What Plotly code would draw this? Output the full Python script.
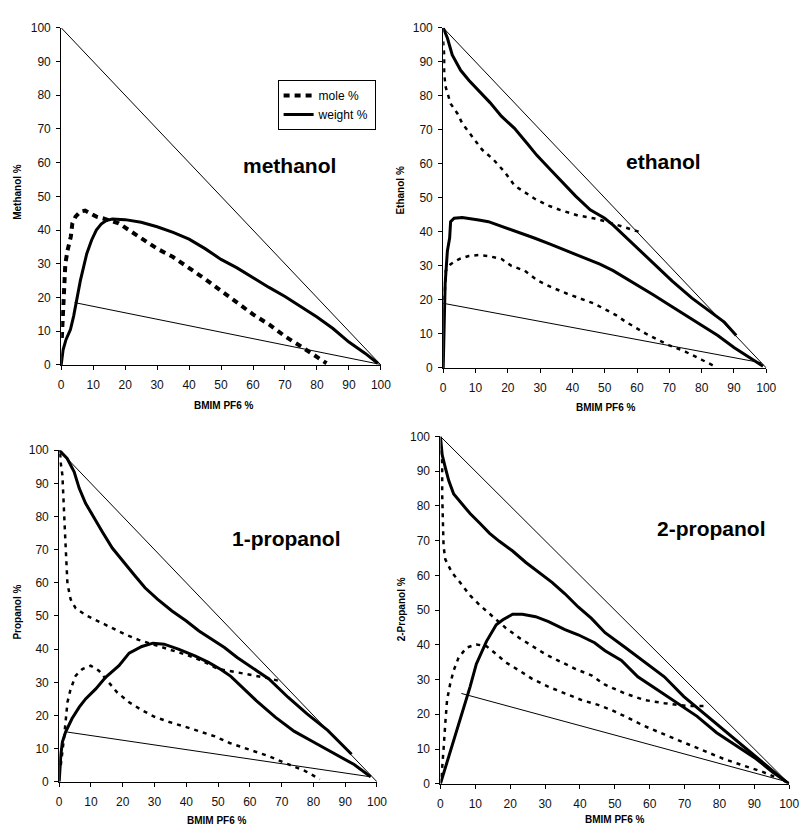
import plotly.graph_objects as go

# page body has an 8px margin: the figure is drawn 8px in from the top-left
OFF = 8
W, H = 803, 826

# ---------------- data ----------------
diag_x = [0, 100]
diag_y = [100, 0]

# methanol
meth_weight_x = [0, 0.6, 1.5, 2.9, 3.9, 4.9, 6, 7, 8, 9.5, 11, 12.5, 14, 16, 20, 25, 30, 35, 40, 45, 50, 55, 60, 65, 70, 75, 80, 85, 90, 95, 99]
meth_weight_y = [0, 4.5, 7.5, 10.5, 14.5, 20, 25, 29, 33, 37, 40, 41.8, 42.8, 43.3, 43.1, 42.3, 41, 39.3, 37.3, 34.5, 31.3, 28.8, 25.8, 23, 20.3, 17.2, 14.2, 10.8, 6.8, 3.5, 0.5]
meth_mole_x = [0.2, 0.5, 0.6, 0.8, 1.3, 2, 3, 3.5, 4.5, 6, 7.5, 9, 11, 13, 15, 18, 22, 26, 30, 35, 40, 45, 50, 55, 60, 65, 70, 75, 79, 83]
meth_mole_y = [8, 15, 20, 25, 30, 34, 38, 42, 44, 45.5, 45.8, 45, 44, 43.5, 43, 42, 39.5, 37, 34.5, 32, 28.8, 25.5, 22, 18.5, 15, 12, 8.5, 5.5, 3, 0.5]
meth_tie_x = [4.2, 99.7]
meth_tie_y = [18.5, 0.2]

# ethanol
eth_weight_up_x = [0, 1.3, 2.8, 5.4, 8, 11, 14.5, 18, 22, 26, 29, 33, 37, 41, 45.5, 50, 52.6, 58.7, 64.8, 70.9, 77, 82, 87, 90.7]
eth_weight_up_y = [100, 97, 92, 87.5, 84.5, 81.5, 78, 74, 70.5, 66, 62.5, 58.5, 54.5, 50.5, 46.5, 44, 42, 36.5, 31, 25.5, 20.5, 17, 13.5, 9.5]
eth_weight_lo_x = [0, 0.3, 0.6, 1.3, 2, 2.3, 3.4, 5.9, 7.9, 11, 14, 18.1, 23.1, 28.2, 33.3, 38.4, 43.5, 48.5, 52.6, 60, 65, 70, 75, 80, 85, 90, 95, 99]
eth_weight_lo_y = [0, 15, 24.7, 34.4, 38.2, 43, 44, 44.2, 44, 43.5, 43, 41.6, 40.1, 38.2, 36.3, 34.4, 32.4, 30.5, 28.6, 24.5, 21.5, 18.5, 15.5, 12.5, 9.5, 6, 3, 0.5]
eth_mole_up_x = [0, 0.3, 0.3, 0.8, 2.3, 4.4, 5.9, 8.9, 12, 15.5, 19.1, 22.1, 25.2, 28.2, 32.3, 36.3, 41.4, 46.5, 50.6, 55.6, 60.7]
eth_mole_up_y = [96, 92.1, 86.3, 82.5, 77.7, 74.8, 71.9, 68, 64.2, 61.3, 57.5, 53.6, 51.7, 49.8, 47.8, 46.4, 44.9, 44, 43, 41.4, 40]
eth_mole_lo_x = [0.4, 0.8, 2.3, 4.9, 7.9, 11, 14, 18.1, 21.1, 25.2, 29.2, 33.3, 38.4, 42.4, 46.5, 50.6, 53.5, 56.6, 62.7, 69.8, 74.9, 80, 84]
eth_mole_lo_y = [20, 28.6, 30.5, 32, 32.9, 33.2, 32.9, 32, 30, 28.6, 25.7, 23.8, 21.8, 20.4, 19, 17, 15.5, 13.5, 10.1, 6.7, 4.8, 2.4, 0.5]
eth_tie_x = [0, 98.5]
eth_tie_y = [19, 1.5]

# 1-propanol
prop_weight_up_x = [0, 2.5, 4.7, 6.3, 8.3, 11, 13.5, 16.7, 20, 23.5, 27, 31, 35.5, 40, 44, 48, 52, 56, 60, 66, 72, 78, 84.5, 90.7, 92]
prop_weight_up_y = [100, 97.5, 93.5, 88.5, 84, 79.5, 75.5, 70.5, 66.5, 62.5, 58.5, 55, 51.5, 48.5, 45.5, 43, 40.5, 37.5, 34.8, 31, 25.5, 20.5, 15.5, 9.5, 8.3]
prop_weight_lo_x = [0, 0.5, 1, 2, 4, 6.3, 8.3, 11.5, 14.6, 18.8, 22, 26, 29.5, 33, 37.5, 42.7, 47, 51, 54, 58, 62, 68, 74, 80, 86.6, 92.8, 98]
prop_weight_lo_y = [0, 8, 12, 15, 19, 22.5, 25, 28, 31.5, 35, 38.8, 40.8, 41.8, 41.5, 40, 38, 36, 33.8, 31.8, 28, 24.5, 19.5, 15.2, 12, 8.5, 5.2, 1.5]
prop_mole_up_x = [0.3, 0.5, 1, 1.35, 1.9, 2.3, 2.6, 3.6, 5.2, 8.3, 12.5, 16.7, 20.8, 25, 30, 35, 40, 45, 50, 56, 62, 66, 70]
prop_mole_up_y = [99, 96, 92.5, 83.5, 73.5, 65.5, 59.7, 55, 52.3, 50.3, 48.3, 46.3, 44.4, 42.8, 41.3, 39.8, 38.3, 36.5, 34, 33, 32, 31.2, 30.2]
prop_mole_lo_x = [0.5, 1, 1.6, 2.1, 2.6, 3.6, 5.2, 7.3, 9.9, 12.5, 15, 18.2, 22, 26, 30, 34.4, 39.6, 44.8, 49, 53.6, 59.8, 66, 72, 77.3, 82]
prop_mole_lo_y = [5, 8.5, 14, 19, 24, 28, 32, 34, 35, 33.5, 30.5, 27, 24, 21.6, 19.6, 18.1, 16.6, 15.1, 13.7, 11.7, 9.7, 7.7, 5.3, 3.3, 0.8]
prop_tie_x = [2.5, 98]
prop_tie_y = [15, 1.5]

# 2-propanol
ipa_weight_up_x = [0, 0.5, 1.4, 2.4, 3.8, 6.1, 8.5, 11.3, 14.1, 16.9, 20.7, 24.5, 28.2, 32, 35.7, 39.5, 43.3, 47.2, 52.9, 58.5, 64.2, 69.8, 75.4, 81.1, 86.7, 92.4, 97, 99]
ipa_weight_up_y = [100, 94.7, 91, 87.2, 83.4, 80.6, 77.8, 75, 72.1, 69.8, 67, 63.7, 60.8, 58, 54.7, 50.9, 47.6, 43.5, 39.3, 35, 30.8, 25.1, 20.4, 15.7, 11, 6.2, 2.5, 0.6]
ipa_weight_lo_x = [0, 1.9, 4.2, 6.6, 8.5, 10.3, 13.2, 16, 17.9, 20.7, 23.5, 27.3, 31, 35.7, 39.5, 44.2, 47.2, 51.9, 56.6, 62.3, 67.9, 73.6, 79.2, 84.8, 90.5, 95.2, 98.5, 100]
ipa_weight_lo_y = [0, 6.2, 13.7, 21.3, 27.9, 34.5, 41, 45.8, 47.2, 48.8, 48.8, 48.1, 46.7, 44.4, 42.9, 40.6, 38.3, 35.5, 30.8, 27, 23.2, 19.4, 14.7, 11, 7.2, 3.4, 1, 0]
ipa_mole_up_x = [0.3, 0.5, 0.5, 0.75, 0.9, 1.4, 3.3, 5.6, 8.5, 11.3, 15, 18.8, 22.6, 26.3, 30.1, 33.9, 38.6, 43.3, 47.2, 52.9, 58.5, 64.2, 70.7, 76.4]
ipa_mole_up_y = [96, 91.9, 83.4, 74, 68.4, 64.6, 60.8, 58, 54.2, 51.4, 48.1, 44.8, 42, 39.6, 37.3, 35.4, 33.1, 31.2, 28.5, 26, 24.1, 23.2, 22.4, 22.4]
ipa_mole_lo_x = [0.3, 0.5, 0.9, 1.4, 1.9, 2.8, 3.8, 5.2, 7.5, 10.3, 13.2, 16, 18.8, 22.6, 26.3, 31, 35.7, 40.5, 45.2, 48.9, 52.9, 58.5, 64.2, 69.8, 75.4, 81.1, 86.7, 92.4, 97]
ipa_mole_lo_y = [2, 4.3, 10, 17.5, 24.1, 28.8, 32.6, 36.3, 39.2, 40.1, 39.6, 37.3, 34.9, 32.6, 30.2, 27.9, 26, 24.1, 22.7, 21.3, 19.4, 16.6, 14.2, 11.9, 9.5, 7.2, 5.3, 3.4, 1.5]
ipa_tie_x = [6, 98.5]
ipa_tie_y = [26, 0.8]

tick_vals = [0, 10, 20, 30, 40, 50, 60, 70, 80, 90, 100]
tick_text = ["0", "10", "20", "30", "40", "50", "60", "70", "80", "90", "100"]

legend_names = ["mole %", "weight %"]
panel_names = ["methanol", "ethanol", "1-propanol", "2-propanol"]
y_titles = ["Methanol %", "Ethanol %", "Propanol %", "2-Propanol %"]
x_title = "BMIM PF6 %"

# ---------------- styling / layout ----------------
FONT = "Liberation Sans, Arial, sans-serif"
THICK = 3
THIN = 1


def fx(p):
    return (p - OFF) / W


def fy(p):
    return 1 - (p - OFF) / H


panels = [
    dict(xd=[fx(59), fx(384)], yd=[fy(364), fy(21)]),
    dict(xd=[fx(447.3), fx(775.7)], yd=[fy(367), fy(21)]),
    dict(xd=[fx(57), fx(380)], yd=[fy(788), fy(450.7)]),
    dict(xd=[fx(444.5), fx(799)], yd=[fy(790), fy(436.7)]),
]

fig = go.Figure()


def add(x, y, k, width, dash="solid", name=None, show=False):
    s = "" if k == 0 else str(k + 1)
    fig.add_trace(go.Scatter(
        x=x, y=y, mode="lines", xaxis="x" + s, yaxis="y" + s,
        line=dict(color="black", width=width, dash=dash),
        name=name, showlegend=show, hoverinfo="skip"))


DOT = "4px,5px"
# panel 1
add(diag_x, diag_y, 0, THIN)
add(meth_tie_x, meth_tie_y, 0, THIN)
add(meth_mole_x, meth_mole_y, 0, 4, "6px,5px", legend_names[0], True)
add(meth_weight_x, meth_weight_y, 0, THICK, "solid", legend_names[1], True)
# panel 2
add(diag_x, diag_y, 1, THIN)
add(eth_tie_x, eth_tie_y, 1, THIN)
add(eth_mole_up_x, eth_mole_up_y, 1, 2.5, DOT)
add(eth_mole_lo_x, eth_mole_lo_y, 1, 2.5, DOT)
add(eth_weight_up_x, eth_weight_up_y, 1, THICK)
add(eth_weight_lo_x, eth_weight_lo_y, 1, THICK)
# panel 3
add(diag_x, diag_y, 2, THIN)
add(prop_tie_x, prop_tie_y, 2, THIN)
add(prop_mole_up_x, prop_mole_up_y, 2, 2.5, DOT)
add(prop_mole_lo_x, prop_mole_lo_y, 2, 2.5, DOT)
add(prop_weight_up_x, prop_weight_up_y, 2, THICK)
add(prop_weight_lo_x, prop_weight_lo_y, 2, THICK)
# panel 4
add(diag_x, diag_y, 3, THIN)
add(ipa_tie_x, ipa_tie_y, 3, THIN)
add(ipa_mole_up_x, ipa_mole_up_y, 3, 2.5, DOT)
add(ipa_mole_lo_x, ipa_mole_lo_y, 3, 2.5, DOT)
add(ipa_weight_up_x, ipa_weight_up_y, 3, THICK)
add(ipa_weight_lo_x, ipa_weight_lo_y, 3, THICK)

axis_common = dict(
    range=[0, 100], tickvals=tick_vals, ticktext=tick_text,
    showline=True, linecolor="black", linewidth=1,
    ticks="outside", ticklen=4, tickwidth=1, tickcolor="black",
    showgrid=False, zeroline=False, fixedrange=True,
    tickfont=dict(family=FONT, size=12, color="#111"),
)

layout = dict(
    width=W, height=H, margin=dict(l=0, r=0, t=0, b=0),
    paper_bgcolor="white", plot_bgcolor="white",
    font=dict(family=FONT, color="black"),
    legend=dict(x=fx(279), y=fy(74), xanchor="left", yanchor="top",
                bgcolor="white", bordercolor="black", borderwidth=1,
                font=dict(family=FONT, size=12), tracegroupgap=0,
                itemwidth=30),
)
for k, p in enumerate(panels):
    s = "" if k == 0 else str(k + 1)
    layout["xaxis" + s] = dict(axis_common, domain=p["xd"], anchor="y" + s, ticklabelstandoff=5)
    layout["yaxis" + s] = dict(axis_common, domain=p["yd"], anchor="x" + s, ticklabelstandoff=3)
fig.update_layout(**layout)

ann = []
for (cx, cy) in [(224, 405), (613, 407), (217, 827), (622, 826)]:
    ann.append(dict(x=fx(cx), y=fy(cy), xref="paper", yref="paper",
                    text="<b>" + x_title + "</b>", showarrow=False,
                    font=dict(family=FONT, size=10), xanchor="center", yanchor="middle"))
for t, (cx, cy) in zip(y_titles, [(15, 188), (404, 187), (15, 615), (405, 613)]):
    ann.append(dict(x=fx(cx), y=fy(cy), xref="paper", yref="paper",
                    text="<b>" + t + "</b>", showarrow=False, textangle=-90,
                    font=dict(family=FONT, size=10), xanchor="center", yanchor="middle"))
for t, (cx, cy) in zip(panel_names, [(291, 161), (671, 157), (288, 541), (720, 530)]):
    ann.append(dict(x=fx(cx), y=fy(cy), xref="paper", yref="paper",
                    text="<b>" + t + "</b>", showarrow=False,
                    font=dict(family="Liberation Sans Narrow, Arial Narrow, " + FONT, size=21),
                    xanchor="center", yanchor="middle"))
fig.update_layout(annotations=ann)

fig.write_html("out.html")
